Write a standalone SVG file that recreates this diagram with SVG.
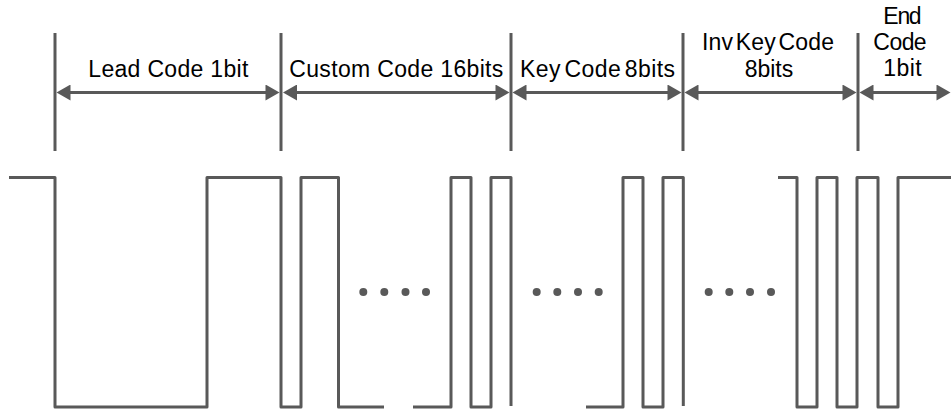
<svg xmlns="http://www.w3.org/2000/svg" width="951" height="414" viewBox="0 0 951 414">
  <style>
    .lbl { font-family: "Liberation Sans", Arial, sans-serif; font-size: 23px; fill: #000; text-anchor: middle; }
    .bound { stroke: #595959; stroke-width: 3; fill: none; }
    .arr { stroke: #595959; stroke-width: 3; fill: none; marker-start: url(#ah); marker-end: url(#ah); }
    .wave { stroke: #595959; stroke-width: 3; fill: none; stroke-linejoin: round; }
    .dot { fill: #595959; }
  </style>
  <defs>
    <marker id="ah" markerUnits="userSpaceOnUse" markerWidth="16" markerHeight="16" viewBox="0 0 14 16" refX="11" refY="8" orient="auto-start-reverse">
      <path d="M0,0 L14,8 L0,16 Z" fill="#595959"/>
    </marker>
  </defs>
  <rect width="951" height="414" fill="#fff"/>

  <g id="boundaries">
    <line class="bound" x1="55" y1="33" x2="55" y2="151"/>
    <line class="bound" x1="281" y1="33" x2="281" y2="151"/>
    <line class="bound" x1="511" y1="33" x2="511" y2="151"/>
    <line class="bound" x1="683" y1="33" x2="683" y2="151"/>
    <line class="bound" x1="858" y1="33" x2="858" y2="151"/>
  </g>

  <g id="lead-code">
    <text class="lbl" x="168.3" y="77" textLength="160" lengthAdjust="spacing">Lead Code 1bit</text>
  </g>
  <g id="custom-code">
    <text class="lbl" x="396.3" y="77" textLength="214" lengthAdjust="spacing">Custom Code 16bits</text>
  </g>
  <g id="key-code">
    <text class="lbl" x="597.5" y="77" textLength="155" lengthAdjust="spacing" word-spacing="-3">Key Code 8bits</text>
  </g>
  <g id="inv-key-code">
    <text class="lbl" x="768" y="49.5" textLength="132" lengthAdjust="spacing" word-spacing="-4">Inv Key Code</text>
    <text class="lbl" x="769" y="77" textLength="48.3" lengthAdjust="spacing">8bits</text>
  </g>
  <g id="end-code">
    <text class="lbl" x="902.5" y="23.5" textLength="38.3" lengthAdjust="spacing">End</text>
    <text class="lbl" x="900" y="49.5" textLength="53.3" lengthAdjust="spacing">Code</text>
    <text class="lbl" x="902.5" y="76" textLength="38.3" lengthAdjust="spacing">1bit</text>
  </g>

  <g id="connectors">
    <line class="arr" x1="59.5" y1="92.5" x2="276.5" y2="92.5"/>
    <line class="arr" x1="286" y1="92.5" x2="506.5" y2="92.5"/>
    <line class="arr" x1="515.5" y1="92.5" x2="678.5" y2="92.5"/>
    <line class="arr" x1="687.5" y1="92.5" x2="853.5" y2="92.5"/>
    <line class="arr" x1="862.5" y1="92.5" x2="947.5" y2="92.5"/>
  </g>

  <g id="waveform">
    <path class="wave" d="M9,177.5 H55 V407 H207 V177.5 H281 V407 H301 V177.5 H338.5 V407 H384"/>
    <path class="wave" d="M413,407 H451 V177.5 H471 V407 H491 V177.5 H511 V406"/>
    <path class="wave" d="M586,407 H623 V177.5 H643 V407 H663 V177.5 H683.3 V406"/>
    <path class="wave" d="M778,177.5 H797 V407 H817 V177.5 H837 V407 H857 V177.5 H878 V407 H898 V177.5 H951"/>
  </g>

  <g id="ellipses">
    <circle class="dot" cx="363.3" cy="292" r="4"/>
    <circle class="dot" cx="384.3" cy="292" r="4"/>
    <circle class="dot" cx="405.5" cy="292" r="4"/>
    <circle class="dot" cx="426" cy="292" r="4"/>
    <circle class="dot" cx="536.7" cy="292" r="4"/>
    <circle class="dot" cx="557.3" cy="292" r="4"/>
    <circle class="dot" cx="578" cy="292" r="4"/>
    <circle class="dot" cx="598.7" cy="292" r="4"/>
    <circle class="dot" cx="708.7" cy="292" r="4"/>
    <circle class="dot" cx="729.3" cy="292" r="4"/>
    <circle class="dot" cx="750" cy="292" r="4"/>
    <circle class="dot" cx="771" cy="292" r="4"/>
  </g>
</svg>
